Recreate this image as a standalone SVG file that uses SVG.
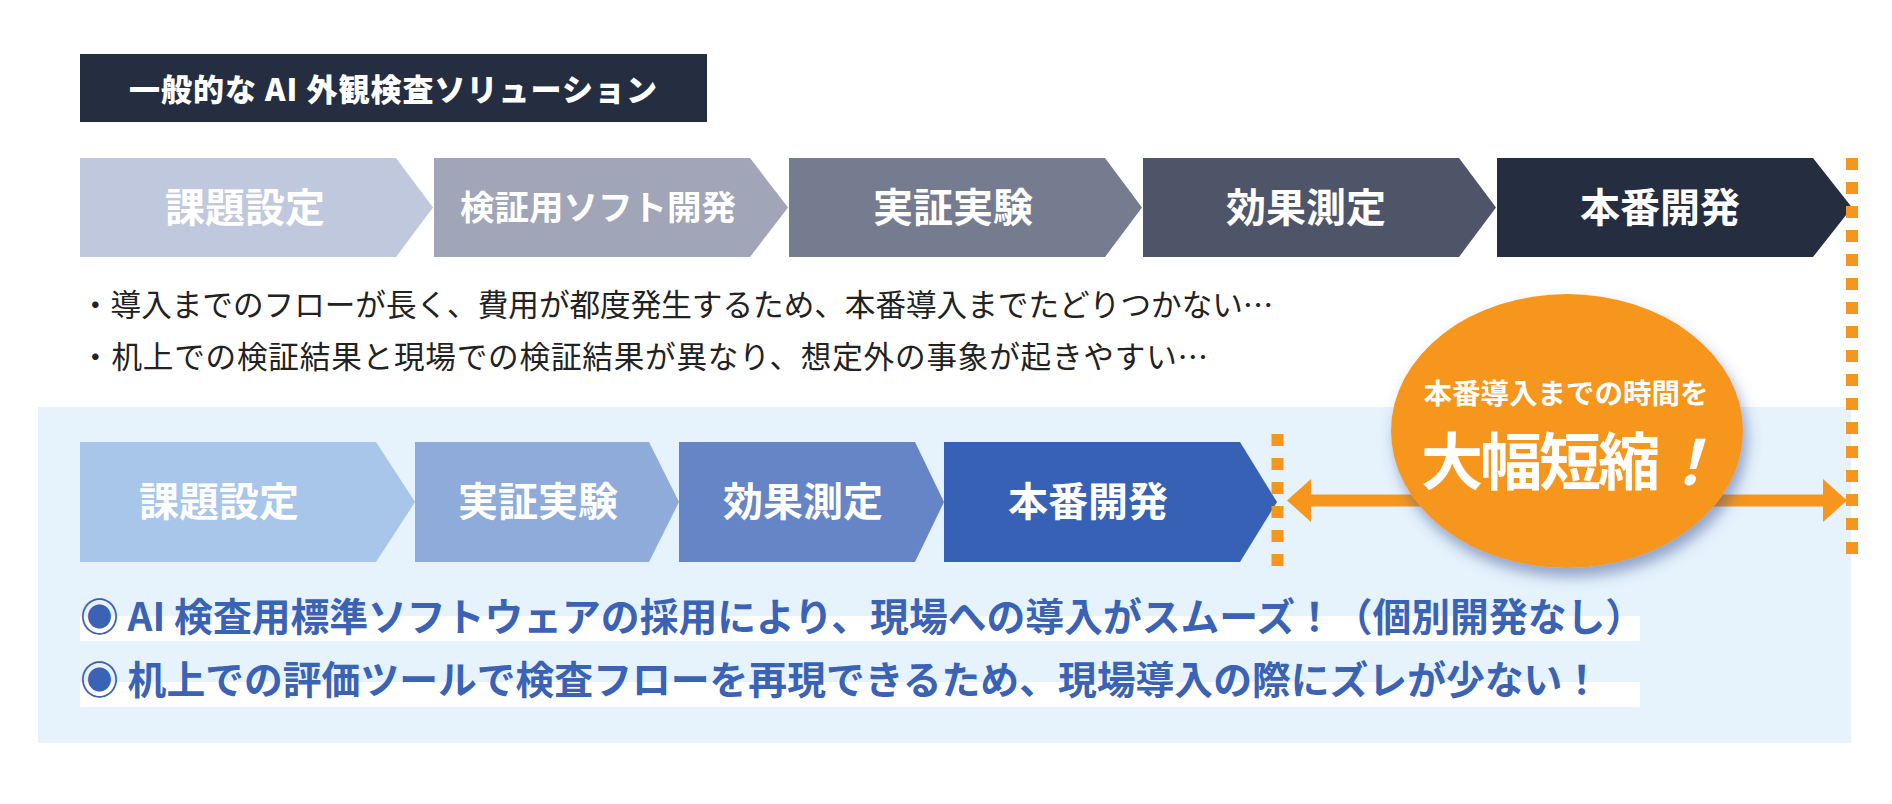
<svg xmlns="http://www.w3.org/2000/svg" width="1892" height="804" viewBox="0 0 1892 804">
<defs>
<style>
.jp{font-family:"Noto Sans CJK JP","Noto Sans CJK SC",sans-serif;}
.chev-t{font-family:"Noto Sans CJK JP",sans-serif;font-weight:700;fill:#ffffff;text-anchor:middle;}
.note{font-family:"Noto Sans CJK JP",sans-serif;font-size:30.6px;fill:#222222;}
.merit{font-family:"Noto Sans CJK JP",sans-serif;font-size:38.8px;font-weight:700;fill:#3A62B5;}
.dots{stroke:#F7961E;stroke-width:12;stroke-dasharray:12 12;fill:none;}
.arr{stroke:#F7961E;stroke-width:12;fill:none;}
.head{fill:#F7961E;}
</style>
<filter id="shadow" x="-20%" y="-20%" width="150%" height="150%">
<feDropShadow dx="4" dy="9" stdDeviation="7" flood-color="#3E5494" flood-opacity="0.5"/>
</filter>
</defs>
<rect width="1892" height="804" fill="#ffffff"/>

<g id="title">
<rect x="80" y="54" width="627" height="68" fill="#252D40"/>
<text x="129" y="101" class="jp" font-size="31" font-weight="900" fill="#ffffff" letter-spacing="1">一般的な AI 外観検査ソリューション</text>
</g>

<g id="top-flow">
<g id="t1"><polygon points="80,158 396,158 433,207.5 396,257 80,257" fill="#BFC8DC"/><text class="chev-t" x="245" y="222" font-size="40">課題設定</text></g>
<g id="t2"><polygon points="434,158 750,158 788,207.5 750,257 434,257" fill="#A0A5B8"/><text class="chev-t" x="598" y="220" font-size="34.5">検証用ソフト開発</text></g>
<g id="t3"><polygon points="789,158 1105,158 1142,207.5 1105,257 789,257" fill="#767C8F"/><text class="chev-t" x="953" y="222" font-size="40">実証実験</text></g>
<g id="t4"><polygon points="1143,158 1459,158 1496,207.5 1459,257 1143,257" fill="#4F5568"/><text class="chev-t" x="1306" y="222" font-size="40">効果測定</text></g>
<g id="t5"><polygon points="1497,158 1813,158 1852,207.5 1813,257 1497,257" fill="#252D40"/><text class="chev-t" x="1660" y="222" font-size="40">本番開発</text></g>
</g>

<g id="notes">
<text class="note" x="80" y="316">・導入までのフローが長く、費用が都度発生するため、本番導入までたどりつかない…</text>
<text class="note" x="80" y="368" letter-spacing="0.8">・机上での検証結果と現場での検証結果が異なり、想定外の事象が起きやすい…</text>
</g>

<g id="panel">
<rect x="38" y="407" width="1813" height="336" fill="#E6F2FC"/>
</g>

<g id="bottom-flow">
<g id="b1"><polygon points="80,442 376,442 415,502 376,562 80,562" fill="#A8C5EA"/><text class="chev-t" x="219" y="516" font-size="40">課題設定</text></g>
<g id="b2"><polygon points="415,442 649,442 679,502 649,562 415,562" fill="#8FABD9"/><text class="chev-t" x="538" y="516" font-size="40">実証実験</text></g>
<g id="b3"><polygon points="679,442 915,442 944,502 915,562 679,562" fill="#6585C6"/><text class="chev-t" x="803" y="516" font-size="40">効果測定</text></g>
<g id="b4"><polygon points="944,442 1240,442 1277,502 1240,562 944,562" fill="#3761B4"/><text class="chev-t" x="1088" y="516" font-size="40">本番開発</text></g>
</g>

<g id="guides">
<line class="dots" x1="1277.5" y1="434" x2="1277.5" y2="566"/>
<line class="dots" x1="1852" y1="158" x2="1852" y2="554"/>
</g>

<g id="connectors">
<line class="arr" x1="1308" y1="500.5" x2="1600" y2="500.5"/>
<polygon class="head" points="1287,500.5 1311,479 1311,522"/>
<line class="arr" x1="1560" y1="500.5" x2="1826" y2="500.5"/>
<polygon class="head" points="1847,500.5 1823,479 1823,522"/>
</g>

<g id="callout">
<ellipse cx="1567" cy="431" rx="176" ry="137" fill="#F7961E" filter="url(#shadow)"/>
<text x="1566" y="404" class="jp" font-size="28.5" font-weight="700" fill="#ffffff" text-anchor="middle">本番導入までの時間を</text>
<text x="1421" y="485" class="jp" font-size="62" font-weight="700" fill="#ffffff" letter-spacing="-3">大幅短縮</text>
<text x="1658" y="485" class="jp" font-size="62" font-weight="700" fill="#ffffff" font-style="italic">！</text>
</g>

<g id="merits">
<rect x="80" y="616" width="1560" height="25" fill="#ffffff"/>
<rect x="80" y="682" width="1560" height="25" fill="#ffffff"/>
<text class="merit" x="80" y="631">◉ AI 検査用標準ソフトウェアの採用により、現場への導入がスムーズ！（個別開発なし）</text>
<text class="merit" x="80" y="694">◉ 机上での評価ツールで検査フローを再現できるため、現場導入の際にズレが少ない！</text>
</g>
</svg>
